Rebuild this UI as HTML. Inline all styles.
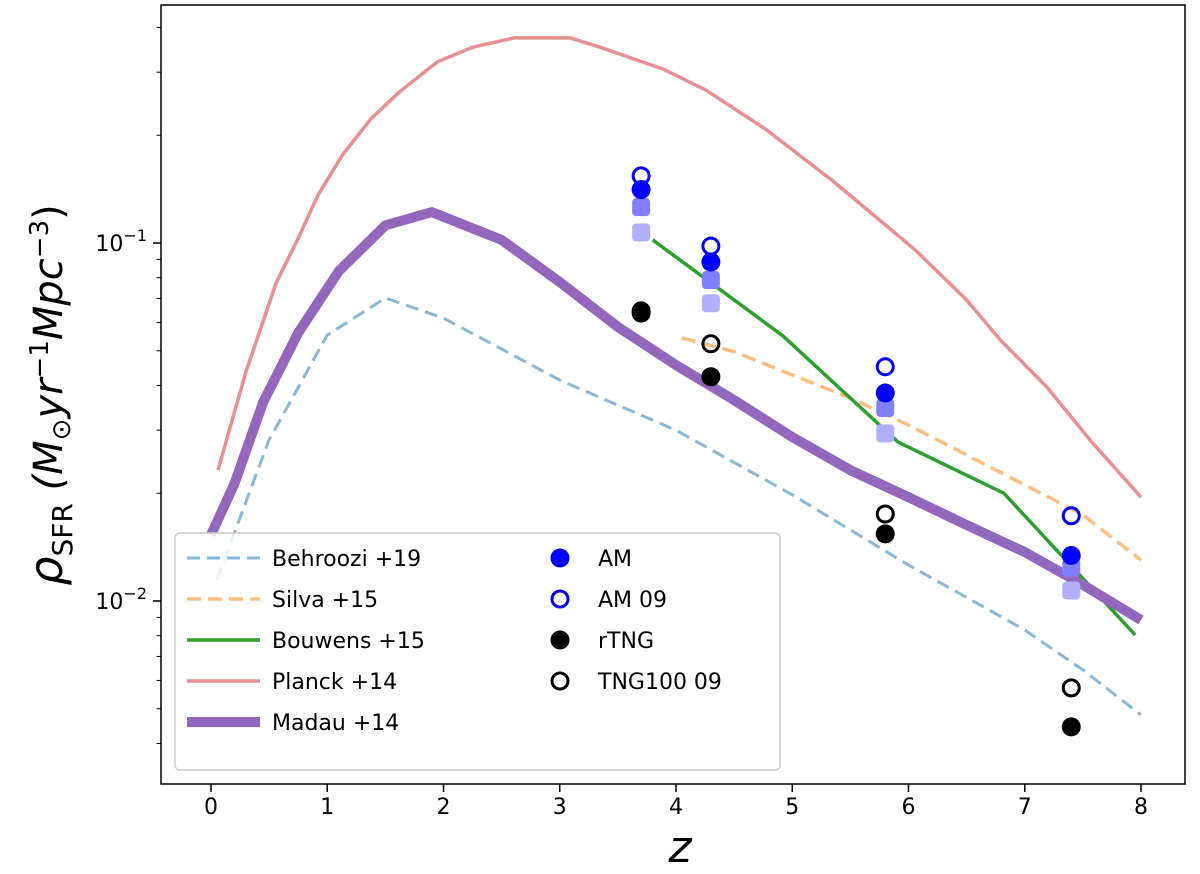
<!DOCTYPE html>
<html><head><meta charset="utf-8"><style>
body{margin:0;background:#fff}
svg text{font-family:"DejaVu Sans","Liberation Sans",sans-serif}
</style></head><body>
<svg id="chart" width="1200" height="869" viewBox="0 0 1200 869" xmlns="http://www.w3.org/2000/svg"></svg>
<script>
const planckZ=[0.06,0.3,0.56,0.75,0.92,1.13,1.38,1.62,1.95,2.26,2.61,3.09,3.35,3.89,4.26,4.77,5.35,6.06,6.5,6.79,7.19,7.56,8];
const planckV=[0.0232,0.0436,0.0773,0.103,0.136,0.176,0.223,0.264,0.321,0.353,0.374,0.374,0.352,0.306,0.267,0.208,0.149,0.0955,0.0693,0.0536,0.0396,0.0282,0.0195];
const madauZ=[0,0.2,0.45,0.75,1.1,1.5,1.9,2.5,3,3.5,4,4.5,5,5.5,6,6.5,7,7.5,8];
const madauV=[0.0153,0.0212,0.036,0.0561,0.0835,0.112,0.122,0.102,0.0778,0.0583,0.0456,0.0364,0.0287,0.0232,0.0195,0.0163,0.0137,0.0111,0.00885];
const behrZ=[0.05,0.5,1,1.5,2,3,4,5,6,7,7.5,8];
const behrV=[0.01146,0.0282,0.0553,0.0702,0.0617,0.0414,0.03,0.0198,0.0126,0.0083,0.00642,0.00481];
const silvaZ=[4.05,4.5,5,5.5,6,6.5,7,7.5,8];
const silvaV=[0.0543,0.0497,0.0428,0.0369,0.031,0.0256,0.0211,0.0174,0.013];
const bouwZ=[3.8,4.92,5.91,6.82,7.95];
const bouwV=[0.102,0.055,0.0278,0.02,0.00804];
const ptZ=[3.7,4.3,5.8,7.4];
const amV=[0.141,0.0885,0.0381,0.0134];
const am09V=[0.154,0.098,0.0451,0.0173];
const rtngV=[0.0637,0.0423,0.0154,0.00445];
const tng09V=[0.0646,0.0523,0.0175,0.00572];
const sqMidV=[0.126,0.0788,0.0346,0.0124];
const sqLightV=[0.107,0.0679,0.0294,0.0107];
const xTicks=[0,1,2,3,4,5,6,7,8];

const NS="http://www.w3.org/2000/svg";
const svg=document.getElementById('chart');
const L=161,R=1185,T=5,B=784;
const X=z=>211+z*116.25;
const Y=v=>243-(Math.log10(v)+1)*358;
function el(tag,attrs,parent){const e=document.createElementNS(NS,tag);for(const k in attrs)e.setAttribute(k,attrs[k]);(parent||svg).appendChild(e);return e;}
function txt(x,y,s,size,anchor,parent){const t=el('text',{x:x,y:y,'font-size':size,'text-anchor':anchor||'middle',fill:'#000'},parent);t.textContent=s;return t;}
const clip=el('clipPath',{id:'pc'});el('rect',{x:L,y:T,width:R-L,height:B-T},clip);
const plot=el('g',{'clip-path':'url(#pc)'});


function line(zs,vs,color,w,dash,name){
  const p=el('polyline',{points:zs.map((z,i)=>X(z)+','+Y(vs[i])).join(' '),fill:'none',stroke:color,'stroke-width':w,'stroke-linejoin':'round'},plot);
  if(dash)p.setAttribute('stroke-dasharray',dash);
  
  
}
line(behrZ,behrV,'#86b8da',3,'13,7','behroozi-line');
line(silvaZ,silvaV,'#ffbe80',3.5,'14,7','silva-line');
line(planckZ,planckV,'#e88f8f',3.5,null,'planck-line');
line(bouwZ,bouwV,'#2ca02c',3.5,null,'bouwens-line');
line(madauZ,madauV,'#9467bd',10,null,'madau-line');
function sq(vs,color,name){vs.forEach((v,i)=>{const r=el('rect',{x:X(ptZ[i])-9,y:Y(v)-9,width:18,height:18,rx:4,fill:color},plot);

});}
sq(sqLightV,'#b0b0ff','am-light-square');
sq(sqMidV,'#8080ff','am-mid-square');
function dots(vs,color,open,name){vs.forEach((v,i)=>{const c=el('circle',{cx:X(ptZ[i]),cy:Y(v),r:open?8:9.5,fill:open?'none':color,stroke:open?color:'none','stroke-width':3},plot);

});}
dots(amV,'#0000ff',false,'am-point');
dots(am09V,'#0000ff',true,'am09-point');
dots(rtngV,'#000',false,'rtng-point');
dots(tng09V,'#000',true,'tng100-09-point');
const fr=el('rect',{x:L,y:T,width:R-L,height:B-T,fill:'none',stroke:'#000','stroke-width':1.5});


xTicks.forEach(z=>{el('line',{x1:X(z),x2:X(z),y1:B,y2:B+8,stroke:'#000','stroke-width':1.5});
const t=txt(X(z),B+30,String(z),22);});
for(let e=-3;e<=0;e++){for(let m=1;m<10;m++){const v=m*Math.pow(10,e);const y=Y(v);if(y<T||y>B)continue;
el('line',{x1:L,x2:L-(m===1?8:4.5),y1:y,y2:y,stroke:'#000','stroke-width':m===1?1.5:1});
if(m===1){const t=el('text',{x:L-14,y:y+8,'font-size':22,'text-anchor':'end'});
t.innerHTML='10<tspan dy="-10" font-size="16">\u2212'+(-e)+'</tspan>';}}}
const xl=txt(680,862,'z',44);xl.setAttribute('font-style','italic');


const yl=el('text',{transform:'translate(62,395) rotate(-90)','font-size':40,'text-anchor':'middle'});


yl.innerHTML='<tspan font-style="italic" font-size="46">ρ</tspan><tspan font-size="28" dy="10">SFR</tspan><tspan dy="-10" font-style="italic"> (M</tspan><tspan font-size="26" dy="8">⊙</tspan><tspan dy="-8" font-style="italic">yr</tspan><tspan font-size="26" dy="-14">−1</tspan><tspan dy="14" font-style="italic">Mpc</tspan><tspan font-size="26" dy="-14">−3</tspan><tspan dy="14">)</tspan>';
const lg=el('g',{});


el('rect',{x:175,y:533,width:605,height:237,rx:5,fill:'#fff','fill-opacity':0.8,stroke:'#ccc','stroke-width':1.5},lg);
const lrows=[['Behroozi +19','#86b8da',3,'13,7'],['Silva +15','#ffbe80',3.5,'14,7'],['Bouwens +15','#2ca02c',3.5,null],['Planck +14','#e88f8f',3.5,null],['Madau +14','#9467bd',10,null]];
lrows.forEach((r,i)=>{const y=558+i*41;const g=el('g',{},lg);


const l=el('line',{x1:187,x2:260,y1:y,y2:y,stroke:r[1],'stroke-width':r[2]},g);if(r[3])l.setAttribute('stroke-dasharray',r[3]);
txt(272,y+8,r[0],22,'start',g);});
const rrows=[['AM','#0000ff',false],['AM 09','#0000ff',true],['rTNG','#000',false],['TNG100 09','#000',true]];
rrows.forEach((r,i)=>{const y=558+i*41;const g=el('g',{},lg);


el('circle',{cx:560,cy:y,r:r[2]?8:9.5,fill:r[2]?'none':r[1],stroke:r[2]?r[1]:'none','stroke-width':3},g);
txt(598,y+8,r[0],22,'start',g);});
</script>
</body></html>
